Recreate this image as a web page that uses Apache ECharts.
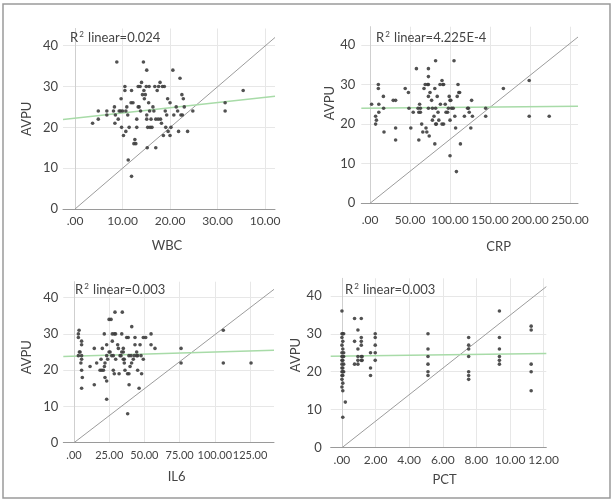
<!DOCTYPE html>
<html><head><meta charset="utf-8">
<script src="https://cdn.jsdelivr.net/npm/echarts@6/dist/echarts.min.js"></script>
<style>html,body{margin:0;padding:0;background:#fff}#c{width:616px;height:503px}</style>
</head><body><div id="c"></div>
<script>
// ---------- data ----------
const yTicks = [0, 10, 20, 30, 40];

const xTicksWBC = [0, 10, 20, 30, 40];
const xLabelsWBC = ['.00', '10.00', '20.00', '30.00', '10.00'];
const xTicksCRP = [0, 50, 100, 150, 200, 250];
const xLabelsCRP = ['.00', '50.00', '100.00', '150.00', '200.00', '250.00'];
const xTicksIL6 = [0, 25, 50, 75, 100, 125];
const xLabelsIL6 = ['.00', '25.00', '50.00', '75.00', '100.00', '125.00'];
const xTicksPCT = [0, 2, 4, 6, 8, 10, 12];
const xLabelsPCT = ['.00', '2.00', '4.00', '6.00', '8.00', '10.00', '12.00'];

const r2WBC = '0.024', r2CRP = '4.225E-4', r2IL6 = '0.003', r2PCT = '0.003';

const wbcPoints = [[3.7,21],[4.9,24],[4.9,22],[6.7,24],[6.7,23],[8.1,24],[8.3,25],[8.4,21],[8.5,23],[8.8,36],[9.1,22],[9.3,24],[9.6,24],[9.7,27],[9.8,20],[10.0,24],[10.2,18],[10.5,30],[10.5,29],[10.7,19],[10.7,24],[10.9,25],[11.1,23],[11.2,12],[11.4,20],[11.8,26],[11.9,8],[11.9,29],[12.2,26],[12.4,16],[12.6,17],[12.8,16],[13.0,22],[13.0,20],[13.3,30],[13.3,25],[13.5,25],[13.7,30],[13.8,24],[14.0,31],[14.2,28],[14.4,36],[14.5,29],[14.6,27],[14.8,28],[15.0,30],[15.1,34],[15.1,22],[15.1,23],[15.2,15],[15.3,20],[15.5,26],[15.6,30],[15.7,24],[15.8,20],[16.0,22],[16.2,20],[16.4,25],[16.6,24],[16.8,30],[17.0,15],[17.0,22],[17.3,29],[17.5,22],[17.6,30],[17.9,31],[18.0,22],[18.2,21],[18.4,30],[18.6,18],[18.8,30],[19.0,24],[19.1,20],[19.3,23],[19.5,27],[19.6,19],[20.0,18],[20.0,26],[20.2,20],[20.6,34],[20.8,23],[21.3,25],[21.6,24],[21.8,19],[22.1,32],[22.3,23],[22.5,28],[22.6,23],[22.8,27],[23.0,25],[23.7,19],[24.8,24],[31.6,26],[31.6,24],[35.4,29]];
const wbcFit = [[-2.53,21.9],[42.1,27.6]];
const wbcRef = [[0,0],[42.1,42]];

const crpPoints = [[2,25],[7,22],[7,20],[8,21],[10.4,30],[10.4,29],[11,25],[11,23],[16.7,27],[17,24],[17.5,18],[29,26],[32,26],[32,19],[32,16],[44,29],[48,28],[48.7,24],[51,19],[54,23],[58,34],[60,24],[61,23],[61,16],[62,25],[63,24],[63,23],[64.6,20],[66,18],[67.5,29],[69,30],[70,19],[71,18],[72,30],[73,30],[73,34],[73,32],[73,27],[73,24],[74,17],[75,28],[77,26],[78,24],[78,21],[80,22],[81,29],[81,15],[82,36],[82,24],[82,20],[83,20],[84,27],[85,23],[86,21],[87.5,30],[88,25],[90,31],[91,30],[92,30],[90,20],[92,20],[94,25],[95,23],[97,23],[98,24],[99,27],[100,26],[101,26],[100,12],[100,21],[102,24],[104,24],[105,36],[106,22],[107,19],[108,8],[109,27],[111,28],[112,28],[110,30],[113,15],[118,22],[122,24],[123,24],[124,23],[126,19],[127,26],[128,22],[144.6,24],[144.6,22],[166.7,29],[199,31],[199,22],[224,22]];
const crpFit = [[-10.9,24.0],[260,24.5]];
const crpRef = [[0,0],[260,42]];

const il6Points = [[3.6,31],[3.1,30],[3.1,29],[4.3,25],[3.8,25],[3.1,24],[5.4,28],[5.4,27],[5.4,23],[4.9,22],[5.4,24],[5.4,20],[5.9,18],[5.4,15],[11.4,21],[14.4,26],[14.4,16],[16.1,22],[18.5,20],[19.2,23],[20.1,26],[19.7,20],[20.9,20],[21.6,21],[22,18],[21.5,30],[22,22],[23.2,24],[23.2,17],[23.2,12],[23.2,27],[23.9,23],[24.9,25],[25.6,25],[24.9,34],[26.3,34],[26.8,24],[27.9,24],[27.2,30],[28.6,30],[29.5,30],[27.2,28],[27.9,20],[28.6,19],[29.1,36],[29.6,23],[31,27],[31.5,26],[32,19],[32.7,24],[33.4,24],[33.9,25],[34.3,36],[35,23],[35.7,23],[35,26],[35,25],[35.7,22],[33.9,30],[36.2,20],[37.4,29],[38.5,29],[41,32],[38,19],[39,19],[39,24],[40.5,24],[39.1,16],[38.1,8],[39.8,21],[40.9,22],[42.1,23],[42.8,24],[44.5,24],[45.2,24],[43.3,29],[43.3,27],[44.5,25],[45.2,20],[46.2,15],[46.9,27],[47.6,24],[48,19],[49.2,23],[49.2,29],[50.9,29],[54.7,30],[54.7,27],[57.5,26],[76,26],[76,22],[106,31],[106,22],[125.7,22]];
const il6Fit = [[-7.6,23.8],[142,25.5]];
const il6Ref = [[0,0],[142,42.3]];

const pctPoints = [[0,36],[0,30],[0.05,30],[0.1,30],[0,29],[0.05,28],[0,27],[0.05,26],[0,25],[0.1,25],[0,24],[0.05,24],[0.1,24],[0,23],[0.05,23],[0,22],[0.1,22],[0,21],[0.05,21],[0,20],[0.05,20],[0.1,20],[0,19],[0.05,19],[0,18],[0.05,17],[0,16],[0.05,15],[0.2,12],[0.05,8],[0.75,34],[0.75,28],[0.75,22],[0.95,31],[0.95,26],[0.95,24],[0.95,23],[0.95,22],[1.15,34],[1.15,29],[1.15,28],[1.15,27],[1.15,24],[1.15,23],[1.2,24],[1.2,23],[1.7,25],[1.7,21],[1.7,19],[1.98,30],[1.98,29],[1.98,27],[1.98,25],[1.98,23],[5.12,30],[5.12,26],[5.12,24],[5.12,22],[5.12,20],[5.12,19],[7.54,29],[7.54,27],[7.54,26],[7.54,24],[7.54,20],[7.54,19],[7.54,18],[9.37,36],[9.37,29],[9.37,26],[9.37,24],[9.37,23],[9.37,22],[11.26,32],[11.26,31],[11.26,22],[11.26,20],[11.26,15]];
const pctFit = [[-0.67,24.1],[12.16,24.8]];
const pctRef = [[0,0],[12.16,42.4]];

// ---------- layout ----------
const FONT = 'Lato';
const TXT = '#444';
const panels = [
  {name:'WBC', r2:r2WBC, pts:wbcPoints, fit:wbcFit, ref:wbcRef, xt:xTicksWBC, xl:xLabelsWBC, lfs:12,
   xr:[-2.53,42.1], ymax:44.2, grid:{left:63,top:28.5,width:212,height:180.5},
   lm:6, ng:30, npad:[0,4,0,0], yng:30, ypad:[0,0,0,0], ylm:5, title:[65,25]},
  {name:'CRP', r2:r2CRP, pts:crpPoints, fit:crpFit, ref:crpRef, xt:xTicksCRP, xl:xLabelsCRP, lfs:12,
   xr:[-10.9,260], ymax:44.6, grid:{left:361.3,top:26.7,width:216.7,height:176.6},
   lm:11, ng:37, npad:[0,0,0,58], yng:25, ypad:[0,0,0,24], ylm:6, title:[371,25]},
  {name:'IL6', r2:r2IL6, pts:il6Points, fit:il6Fit, ref:il6Ref, xt:xTicksIL6, xl:xLabelsIL6, lfs:11,
   xr:[-7.6,142], ymax:44.4, grid:{left:63.3,top:281.7,width:210.7,height:161},
   lm:7, ng:28, npad:[0,0,0,16], yng:30, ypad:[0,0,0,10], ylm:5, title:[70,277]},
  {name:'PCT', r2:r2PCT, pts:pctPoints, fit:pctFit, ref:pctRef, xt:xTicksPCT, xl:xLabelsPCT, lfs:12,
   xr:[-0.67,12.16], ymax:44.6, grid:{left:330.7,top:278.3,width:215.6,height:169.4},
   lm:6, ng:26, npad:[0,0,0,12], yng:23, ypad:[0,0,0,16], ylm:9, title:[340,277]}
];

const grids = [], xAxes = [], yAxes = [], series = [], titles = [];
panels.forEach((p, i) => {
  grids.push(Object.assign({}, p.grid));
  xAxes.push({
    gridIndex:i, type:'value', min:p.xr[0], max:p.xr[1],
    axisLine:{show:true, lineStyle:{color:'#9a9a9a', width:1}},
    axisTick:{show:false, customValues:p.xt},
    axisLabel:{customValues:p.xt, margin:p.lm, fontSize:p.lfs, color:TXT, fontFamily:FONT,
      hideOverlap:false, showMinLabel:true, showMaxLabel:true,
      formatter:(v)=>{const k=p.xt.findIndex(t=>Math.abs(t-v)<1e-9); return k<0?'':p.xl[k];}},
    splitLine:{show:true, lineStyle:{color:'#e7e7e7', width:1}},
    name:p.name, nameLocation:'middle', nameGap:p.ng,
    nameTextStyle:{fontSize:13, color:TXT, fontFamily:FONT, padding:p.npad}
  });
  yAxes.push({
    gridIndex:i, type:'value', min:0, max:p.ymax, interval:10,
    axisLine:{show:true, lineStyle:{color:'#cfcfcf', width:1}},
    axisTick:{show:false, customValues:yTicks},
    axisLabel:{customValues:yTicks, margin:p.ylm, fontSize:13, color:TXT, fontFamily:FONT,
      showMinLabel:true, showMaxLabel:true},
    splitLine:{show:true, lineStyle:{color:'#e7e7e7', width:1}},
    name:'AVPU', nameLocation:'middle', nameGap:p.yng,
    nameTextStyle:{fontSize:13, color:TXT, fontFamily:FONT, padding:p.ypad}
  });
  series.push({type:'line', xAxisIndex:i, yAxisIndex:i, data:p.ref, showSymbol:false, silent:true,
    lineStyle:{color:'#9c9c9c', width:1}, z:2, animation:false});
  series.push({type:'line', xAxisIndex:i, yAxisIndex:i, data:p.fit, showSymbol:false, silent:true,
    lineStyle:{color:'#a8dba8', width:1.5}, z:2, animation:false});
  series.push({type:'scatter', xAxisIndex:i, yAxisIndex:i, data:p.pts, symbolSize:3.6,
    itemStyle:{color:'#3e3e3e', opacity:0.9}, z:3, animation:false});
  titles.push({left:p.title[0], top:p.title[1],
    text:'{a|R}{s|2}{a| linear=' + p.r2 + '}',
    textStyle:{fontWeight:'normal', rich:{
      a:{fontSize:13, fontWeight:'normal', color:TXT, fontFamily:FONT, lineHeight:16},
      s:{fontSize:8, fontWeight:'normal', color:TXT, fontFamily:FONT, lineHeight:16, padding:[0,1,7,1]}
    }}});
});

const chart = echarts.init(document.getElementById('c'), null, {renderer:'canvas'});
chart.setOption({
  backgroundColor:'#fff',
  animation:false,
  title:titles,
  grid:grids, xAxis:xAxes, yAxis:yAxes, series:series,
  graphic:[{type:'rect', shape:{x:3, y:4, width:607, height:494},
    style:{fill:'none', stroke:'#9a9a9a', lineWidth:1.5}, silent:true}]
});
</script></body></html>
